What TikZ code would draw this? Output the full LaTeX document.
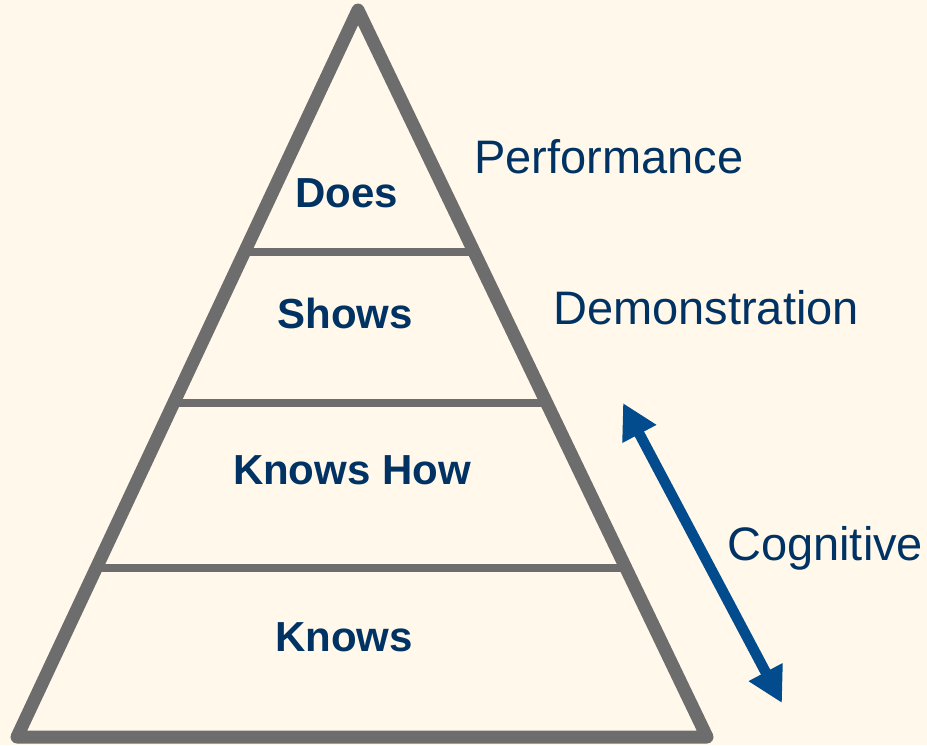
\documentclass[tikz,border=0pt]{standalone}
\usepackage{fontspec}
\setmainfont{Liberation Sans}
\usetikzlibrary{calc,arrows.meta}
\definecolor{bgc}{HTML}{FFF8EB}
\definecolor{pyrgray}{HTML}{6D6D6D}
\definecolor{navytext}{HTML}{003363}
\definecolor{arrowblue}{HTML}{024B8D}
\tikzset{
  edge/.style={draw=pyrgray, line width=13pt, line join=round},
  tier/.style={draw=pyrgray, line width=8pt},
  tierlabel/.style={text=navytext, font=\fontsize{42}{50}\selectfont\bfseries, anchor=base, inner sep=0pt},
  sidelabel/.style={text=navytext, font=\fontsize{47}{56}\selectfont, anchor=base west, inner sep=0pt},
  dblarrow/.style={draw=arrowblue, line width=10.5pt, {Triangle[length=35pt,width=36pt]}-{Triangle[length=35pt,width=36pt]}}
}
\begin{document}
\begin{tikzpicture}[x=1pt,y=-1pt]
\useasboundingbox[fill=bgc] (0,0) rectangle (927,745);
\coordinate (apex) at (358,10);
\coordinate (bl) at (17,737);
\coordinate (br) at (707,737);
% tier lines
\coordinate (l1) at ($(apex)!0.3329!(bl)$);
\coordinate (r1) at ($(apex)!0.3329!(br)$);
\coordinate (l2) at ($(apex)!0.5406!(bl)$);
\coordinate (r2) at ($(apex)!0.5406!(br)$);
\coordinate (l3) at ($(apex)!0.7675!(bl)$);
\coordinate (r3) at ($(apex)!0.7675!(br)$);
\draw[tier] (l1) -- (r1);
\draw[tier] (l2) -- (r2);
\draw[tier] (l3) -- (r3);
\draw[edge] (apex) -- (bl) -- (br) -- cycle;
% tier labels
\node[tierlabel] (does) at (347,207) {Does};
\node[tierlabel] (shows) at (345,328) {Shows};
\node[tierlabel] (knowshow) at (352,484) {Knows How};
\node[tierlabel] (knows) at (344,651) {Knows};
% side labels
\node[sidelabel] (perf) at (474,173) {Performance};
\node[sidelabel] (demo) at (553,324) {Demonstration};
\node[sidelabel] (cog) at (727,560) {Cognitive};
% arrow
\coordinate (atop) at (623,403);
\coordinate (abot) at (782,703);
\draw[dblarrow] (atop) -- (abot);
\end{tikzpicture}
\end{document}
